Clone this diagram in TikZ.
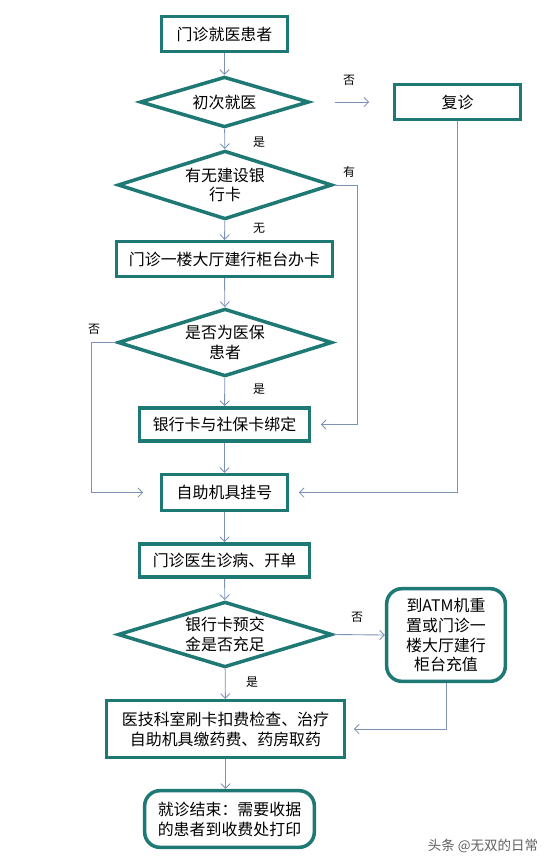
\documentclass[tikz,border=0pt]{standalone}
\usepackage{fontspec}
\setmainfont{Noto Sans CJK SC}
\usepackage{xcolor}
\usepackage{tikz}
\usetikzlibrary{arrows.meta, shapes.geometric}
\definecolor{bianlv}{RGB}{30,120,115}
\definecolor{xianlan}{RGB}{125,145,180}
\definecolor{shuiyin}{RGB}{95,95,95}

\begin{document}
\begin{tikzpicture}[x=0.03cm, y=-0.03cm, >={Straight Barb[length=4pt,width=8pt]},
      blk/.style={draw=bianlv, line width=3pt, inner sep=0pt,
                  font=\fontsize{13.6}{17}\selectfont, align=center},
      rblk/.style={blk, rounded corners=13pt},
      dec/.style={blk, diamond, aspect=3.2},
      flow/.style={->, draw=xianlan, line width=0.75pt},
      lbl/.style={font=\fontsize{10.2}{12}\selectfont}]

    \useasboundingbox (0,0) rectangle (553,866);

    \node[blk, minimum width=3.77cm, minimum height=1.04cm] (start) at (224.5,34) {门诊就医患者};
    \node[dec, minimum width=5.07cm, minimum height=1.52cm] (first) at (224.5,102) {初次就医};
    \node[blk, minimum width=3.77cm, minimum height=1.04cm] (revisit) at (457.5,102) {复诊};
    \node[dec, minimum width=6.43cm, minimum height=2.06cm] (hascard) at (225,185) {有无建设银\\行卡};
    \node[blk, minimum width=6.47cm, minimum height=1.04cm] (opencard) at (224.5,259) {门诊一楼大厅建行柜台办卡};
    \node[dec, minimum width=6.43cm, minimum height=2.03cm] (insured) at (225,342.5) {是否为医保\\患者};
    \node[blk, minimum width=5.09cm, minimum height=1.0cm] (bind) at (224.5,424.5) {银行卡与社保卡绑定};
    \node[blk, minimum width=3.77cm, minimum height=1.07cm] (register) at (224.5,492.5) {自助机具挂号};
    \node[blk, minimum width=5.09cm, minimum height=1.0cm] (doctor) at (224.5,560.5) {门诊医生诊病、开单};
    \node[dec, minimum width=6.43cm, minimum height=1.97cm] (deposit) at (225,634.5) {银行卡预交\\金是否充足};
    \node[rblk, minimum width=3.56cm, minimum height=2.78cm] (topup) at (446,635) {到ATM机重\\置或门诊一\\楼大厅建行\\柜台充值};
    \node[blk, minimum width=7.13cm, minimum height=1.70cm] (exam) at (225.5,729) {医技科室刷卡扣费检查、治疗\\自助机具缴药费、药房取药};
    \node[rblk, minimum width=5.09cm, minimum height=1.70cm] (finish) at (229.5,819) {就诊结束：需要收据\\的患者到收费处打印};

    % yes / no
    \node[lbl] (no1) at (349,80) {否};
    \node[lbl] (yes1) at (259,142) {是};
    \node[lbl] (have) at (349,172) {有};
    \node[lbl] (none) at (259,228) {无};
    \node[lbl] (no2) at (94,329) {否};
    \node[lbl] (yes2) at (259,389) {是};
    \node[lbl] (no3) at (357,617) {否};
    \node[lbl] (yes3) at (252,682) {是};

    % main line
    \draw[flow] (start) -- (first);
    \draw[flow] (first) -- (hascard);
    \draw[flow] (hascard) -- (opencard);
    \draw[flow] (opencard) -- (insured);
    \draw[flow] (insured) -- (bind);
    \draw[flow] (bind) -- (register);
    \draw[flow] (register) -- (doctor);
    \draw[flow] (doctor) -- (deposit);
    \draw[flow] (deposit) -- (exam);
    \draw[flow] (exam.south) -- (exam.south |- finish.north);

    % side branches
    \draw[flow, shorten <=0.72cm, shorten >=0.71cm] (first.east) -- (revisit.west);
    \draw[flow, shorten >=0.29cm] (hascard.east) -- ++(24,0) |- (bind.east);
    \draw[flow, shorten >=0.5cm] (insured.west) -- ++(-25,0) |- (register.west);
    \draw[flow, shorten >=0.29cm] (revisit.south) |- (register.east);
    \draw[flow] (deposit.east) -- (topup.west);
    \draw[flow, shorten >=0.23cm] (topup.south) |- (exam.east);

    \node[font=\fontsize{11.5}{13}\selectfont, text=shuiyin] (mark) at (483,846) {头条 @无双的日常};
  \end{tikzpicture}
\end{document}
